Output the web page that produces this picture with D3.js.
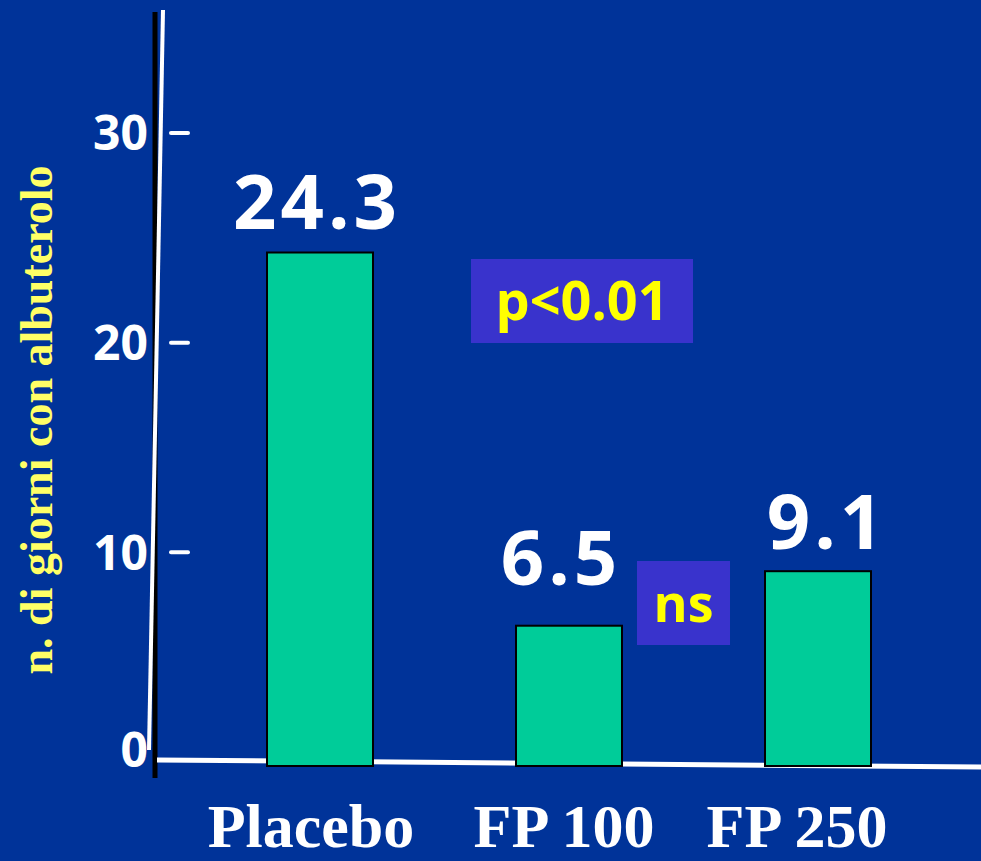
<!DOCTYPE html>
<html>
<head>
<meta charset="utf-8">
<script src="https://cdn.jsdelivr.net/npm/d3@7"></script>
<style>
  html, body { margin: 0; padding: 0; background: #003399; }
  svg { display: block; }
</style>
</head>
<body>
<script>
// Days with albuterolo use per treatment group
const categories = ["Placebo", "FP 100", "FP 250"];
const values = [24.3, 6.5, 9.1];
const valueLabels = ["24.3", "6.5", "9.1"];
const yTicks = [0, 10, 20, 30];
const yTitle = "n. di giorni con albuterolo";
const annotations = ["p<0.01", "ns"];

const W = 981, H = 861;
const svg = d3.select("body").append("svg").attr("width", W).attr("height", H);

svg.append("rect").attr("width", W).attr("height", H).attr("fill", "#003399");

const x = d3.scalePoint().domain(categories).range([320, 818]);
const y = d3.scaleLinear().domain([0, 30]).range([762, 133]);
const barW = 106;
const roundFont = "Open Sans";

// Black frame line and slanted white axes
svg.append("line").attr("x1", 155).attr("x2", 155).attr("y1", 12).attr("y2", 778)
  .attr("stroke", "#000").attr("stroke-width", 5);
svg.append("line").attr("x1", 163).attr("y1", 10).attr("x2", 149).attr("y2", 750)
  .attr("stroke", "#fff").attr("stroke-width", 4);
svg.append("line").attr("x1", 157).attr("y1", 760).attr("x2", 981).attr("y2", 767)
  .attr("stroke", "#fff").attr("stroke-width", 5);

// Tick dashes and labels
const tickG = svg.append("g");
tickG.selectAll("line").data(yTicks.filter(d => d > 0)).join("line")
  .attr("x1", 171).attr("x2", 188)
  .attr("y1", d => y(d)).attr("y2", d => y(d))
  .attr("stroke", "#fff").attr("stroke-width", 4).attr("stroke-linecap", "round");
tickG.selectAll("text").data(yTicks).join("text")
  .attr("x", 148).attr("y", d => y(d) - (d === 0 ? 12 : 0))
  .attr("dy", "0.36em")
  .attr("text-anchor", "end")
  .attr("font-family", roundFont)
  .attr("font-weight", "bold")
  .attr("font-size", 48)
  .attr("fill", "#fff")
  .text(d => d);

// Bars
svg.append("g").selectAll("rect").data(values).join("rect")
  .attr("x", (d, i) => x(categories[i]) - barW / 2)
  .attr("y", d => y(d))
  .attr("width", barW)
  .attr("height", d => y(0) + 4 - y(d))
  .attr("fill", "#00CC99")
  .attr("stroke", "#000")
  .attr("stroke-width", 2);

// Value labels
const lift = [24, 41, 22];
const shift = [-3, -8, 9];
svg.append("g").selectAll("text").data(values).join("text")
  .attr("x", (d, i) => x(categories[i]) + shift[i])
  .attr("y", (d, i) => y(d) - lift[i])
  .attr("text-anchor", "middle")
  .attr("font-family", roundFont)
  .attr("font-weight", "bold")
  .attr("font-size", 76)
  .attr("letter-spacing", 4)
  .attr("fill", "#fff")
  .text((d, i) => valueLabels[i]);

// Significance boxes
const boxes = [
  { text: annotations[0], x0: 471, y0: 259, w: 222, h: 84, size: 54 },
  { text: annotations[1], x0: 637, y0: 561, w: 93, h: 84, size: 52 }
];
const bg = svg.append("g").selectAll("g").data(boxes).join("g");
bg.append("rect")
  .attr("x", d => d.x0).attr("y", d => d.y0)
  .attr("width", d => d.w).attr("height", d => d.h)
  .attr("fill", "#3933CC");
bg.append("text")
  .attr("x", d => d.x0 + d.w / 2)
  .attr("y", d => d.y0 + d.h / 2)
  .attr("dy", "0.36em")
  .attr("text-anchor", "middle")
  .attr("font-family", roundFont)
  .attr("font-weight", "bold")
  .attr("font-size", d => d.size)
  .attr("fill", "#FFFF00")
  .text(d => d.text);

// Y-axis title
svg.append("text")
  .attr("transform", "translate(52,420) rotate(-90)")
  .attr("text-anchor", "middle")
  .attr("font-family", "Liberation Serif")
  .attr("font-weight", "bold")
  .attr("font-size", 46)
  .attr("fill", "#FFFF66")
  .text(yTitle);

// Category labels
const catOffset = [-9, -5, -21];
svg.append("g").selectAll("text").data(categories).join("text")
  .attr("x", (d, i) => x(d) + catOffset[i])
  .attr("y", 847)
  .attr("text-anchor", "middle")
  .attr("font-family", "Liberation Serif")
  .attr("font-weight", "bold")
  .attr("font-size", 62)
  .attr("fill", "#fff")
  .text(d => d);
</script>
</body>
</html>
